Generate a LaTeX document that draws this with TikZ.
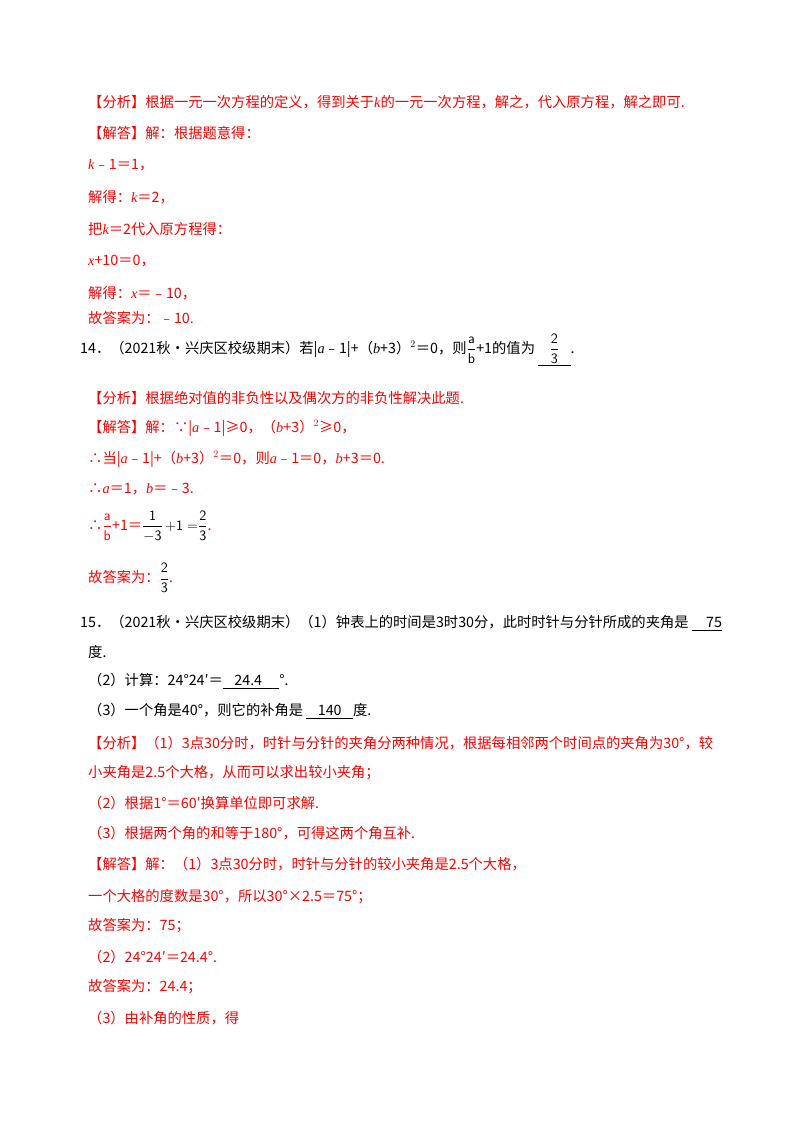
\documentclass[tikz,border=0pt]{standalone}
\usepackage{amsmath}
\usepackage{fontspec}
\setmainfont{Liberation Serif}
\newfontfamily\cjk{Noto Sans CJK SC}
\newcommand{\var}[1]{{\rmfamily\itshape #1}}
\newcommand{\fr}[2]{$\dfrac{\mathsf{#1}}{\mathsf{#2}}$}
\newcommand{\blank}[1]{\underline{\hspace{0.8em}#1\hspace{0.8em}}}
\tikzset{
    ln/.style={anchor=west, inner sep=0pt, font=\cjk\fontsize{14.3}{15}\selectfont},
    ans/.style={ln, text=red}
}
\begin{document}
\begin{tikzpicture}[x=1pt, y=-1pt]
    \useasboundingbox[fill=white] (0,0) rectangle (800,1132);

    % problem 13 solution
    \node[ans] (a1) at (88,102) {【分析】根据一元一次方程的定义，得到关于\var{k}的一元一次方程，解之，代入原方程，解之即可.};
    \node[ans] (a2) at (88,133) {【解答】解：根据题意得：};
    \node[ans] (a3) at (88,165) {\var{k}﹣1＝1，};
    \node[ans] (a4) at (88,197) {解得：\var{k}＝2，};
    \node[ans] (a5) at (88,229) {把\var{k}＝2代入原方程得：};
    \node[ans] (a6) at (88,261) {\var{x}+10＝0，};
    \node[ans] (a7) at (88,293) {解得：\var{x}＝﹣10，};
    \node[ans] (a8) at (88,318) {故答案为：﹣10.};

    % problem 14
    \node[ln] (p14) at (80,350) {14．（2021秋•兴庆区校级期末）若|\var{a}﹣1|+（\var{b}+3）$^2$＝0，则\fr{a}{b}+1的值为 \blank{\fr{2}{3}}.};
    \node[ans] (b1) at (88,398) {【分析】根据绝对值的非负性以及偶次方的非负性解决此题.};
    \node[ans] (b2) at (88,428) {【解答】解：∵|\var{a}﹣1|≥0，（\var{b}+3）$^2$≥0，};
    \node[ans] (b3) at (88,459) {∴当|\var{a}﹣1|+（\var{b}+3）$^2$＝0，则\var{a}﹣1＝0，\var{b}+3＝0.};
    \node[ans] (b4) at (88,489) {∴\var{a}＝1，\var{b}＝﹣3.};
    \node[ans] (b5) at (88,526) {∴\fr{a}{b}+1＝\textcolor{black}{\fr{1}{-3}\,$\mathsf{+1=}$\fr{2}{3}}.};
    \node[ans] (b6) at (88,578) {故答案为：\textcolor{black}{\fr{2}{3}}.};

    % problem 15
    \node[ln] (p15) at (80,623) {15．（2021秋•兴庆区校级期末）（1）钟表上的时间是3时30分，此时时针与分针所成的夹角是 \underline{\hspace{1em}75}};
    \node[ln] (c1) at (88,652) {度.};
    \node[ln] (c2) at (88,681) {（2）计算：24°24′＝\underline{\hspace{0.8em}24.4\hspace{1.2em}}°.};
    \node[ln] (c3) at (88,711) {（3）一个角是40°，则它的补角是 \underline{\hspace{0.8em}140\hspace{0.8em}}度.};
    \node[ans] (d1) at (88,743) {【分析】（1）3点30分时，时针与分针的夹角分两种情况，根据每相邻两个时间点的夹角为30°，较};
    \node[ans] (d2) at (88,773) {小夹角是2.5个大格，从而可以求出较小夹角；};
    \node[ans] (d3) at (88,803) {（2）根据1°＝60′换算单位即可求解.};
    \node[ans] (d4) at (88,833) {（3）根据两个角的和等于180°，可得这两个角互补.};
    \node[ans] (e1) at (88,864) {【解答】解：（1）3点30分时，时针与分针的较小夹角是2.5个大格，};
    \node[ans] (e2) at (88,897) {一个大格的度数是30°，所以30°×2.5＝75°；};
    \node[ans] (e3) at (88,926) {故答案为：75；};
    \node[ans] (e4) at (88,957) {（2）24°24′＝24.4°.};
    \node[ans] (e5) at (88,987) {故答案为：24.4；};
    \node[ans] (e6) at (88,1018) {（3）由补角的性质，得};
\end{tikzpicture}
\end{document}
